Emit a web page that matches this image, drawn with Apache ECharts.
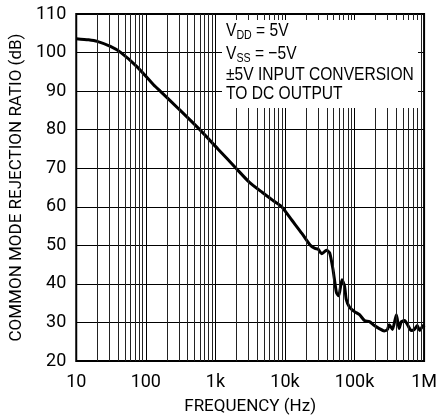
<!DOCTYPE html>
<html><head><meta charset="utf-8">
<script src="https://cdn.jsdelivr.net/npm/echarts@6/dist/echarts.min.js"></script>
<style>html,body{margin:0;padding:0;background:#fff}#c{width:440px;height:420px}</style>
</head><body><div id="c"></div>
<script>
// ---- data ----
const freqHz = [10, 15, 20, 31, 43, 75, 130, 161, 300, 597, 1087, 1980, 3060, 4740, 6900, 9100,
  12600, 17500, 23000, 27000, 30000, 33700, 39600, 44000, 49300, 55000, 59300, 66000, 72000, 76000,
  85000, 100000, 118000, 139000, 164000, 193000, 227000, 267000, 298000, 315000, 351000, 400000,
  437000, 471000, 525000, 586000, 653000, 728000, 795000, 867000, 967000, 1000000];
const cmrrDb = [103.6, 103.3, 102.9, 101.6, 100.1, 96.3, 91.6, 90.0, 85.3, 80.0, 75.0, 70.0, 66.4, 63.7, 61.5, 59.9,
  56.5, 53.1, 50.1, 49.2, 49.0, 47.8, 48.7, 48.0, 43.5, 37.7, 36.9, 41.1, 39.4, 36.0,
  33.9, 32.8, 32.0, 30.5, 30.2, 29.2, 28.4, 27.8, 28.2, 29.4, 28.2, 32.0,
  28.4, 30.2, 30.5, 29.2, 27.9, 28.2, 29.2, 27.9, 29.2, 28.8];
const xTickLabels = {10: '10', 100: '100', 1000: '1k', 10000: '10k', 100000: '100k', 1000000: '1M'};
const yMin = 20, yMax = 110, yStep = 10;
const xTitle = 'FREQUENCY (Hz)';
const yTitle = 'COMMON MODE REJECTION RATIO (dB)';

const AXFONT = 'Roboto, "Liberation Sans", sans-serif';
const NOTEFONT = '"Liberation Sans", Arial, sans-serif';

// minor vertical grid (2..9 per decade)
const minorGrid = [];
[10, 100, 1000, 10000, 100000].forEach(d => { for (let k = 2; k <= 9; k++) minorGrid.push(d * k); });

const chart = echarts.init(document.getElementById('c'), null, {renderer: 'canvas'});
const main = {fontFamily: NOTEFONT, fontSize: 19, fill: '#000', lineHeight: 22, verticalAlign: 'middle'};
const sub = {fontFamily: NOTEFONT, fontSize: 13, fill: '#000', lineHeight: 12, verticalAlign: 'bottom'};
function note(text, y) {
  return {type: 'text', x: 226, y: y, z: 101, scaleX: 0.82,
    style: {text: text, rich: {m: main, s: sub}, verticalAlign: 'top', align: 'left'}};
}
chart.setOption({
  animation: false,
  grid: {left: 75, top: 14, right: 13, bottom: 54, show: true, borderColor: '#000', borderWidth: 2},
  xAxis: {
    type: 'log', logBase: 10, min: 10, max: 1000000,
    axisLine: {show: false}, axisTick: {show: false},
    axisLabel: {fontFamily: AXFONT, fontSize: 18, color: '#000', margin: 12,
      formatter: v => xTickLabels[Math.round(v)] || ''},
    splitLine: {show: true, lineStyle: {color: '#000', width: 1}},
    name: xTitle, nameLocation: 'middle', nameGap: 37,
    nameTextStyle: {fontFamily: AXFONT, fontSize: 17, color: '#000'}
  },
  yAxis: {
    type: 'value', min: yMin, max: yMax, interval: yStep,
    axisLine: {show: false}, axisTick: {show: false},
    axisLabel: {fontFamily: AXFONT, fontSize: 18, color: '#000', margin: 10},
    splitLine: {show: true, lineStyle: {color: '#000', width: 1}},
    name: yTitle, nameLocation: 'middle', nameGap: 49,
    nameTextStyle: {fontFamily: AXFONT, fontSize: 17, color: '#000'}
  },
  series: [
    {type: 'line', data: [], z: 1, silent: true,
      markLine: {silent: true, symbol: 'none', animation: false, label: {show: false},
        lineStyle: {color: '#222', width: 1, type: 'solid'},
        emphasis: {disabled: true},
        data: minorGrid.map(v => ({xAxis: v}))}},
    {type: 'line', z: 3, data: freqHz.map((f, i) => [f, cmrrDb[i]]),
      symbol: 'none', showSymbol: false, smooth: 0.2,
      lineStyle: {color: '#000', width: 3}}
  ],
  graphic: [
    {type: 'rect', z: 100, shape: {x: 222, y: 20, width: 196, height: 88}, style: {fill: '#fff'}},
    note('{m|V}{s|DD}{m| = 5V}', 20),
    note('{m|V}{s|SS}{m| = \u22125V}', 42.5),
    note('{m|\u00b15V INPUT CONVERSION}', 63.5),
    note('{m|TO DC OUTPUT}', 82.5)
  ]
});
</script></body></html>
